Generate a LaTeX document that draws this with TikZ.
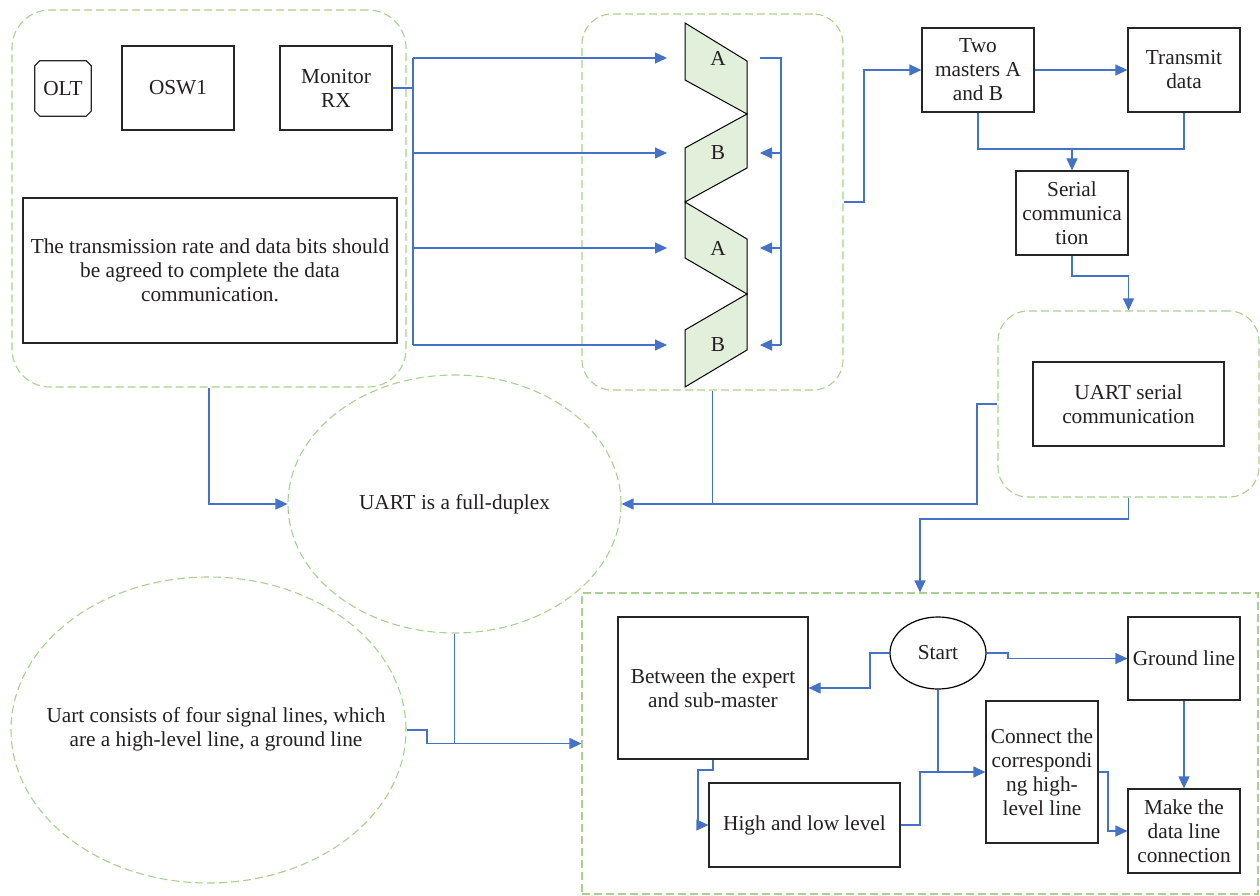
\documentclass[tikz,border=0pt]{standalone}
\usepackage{fontspec}
\setmainfont{Liberation Serif}
\usetikzlibrary{arrows.meta,shapes.geometric,shapes.misc}
\definecolor{bl}{HTML}{4472C4}
\definecolor{gr}{HTML}{A9D18E}
\definecolor{gf}{HTML}{E2EFDA}
\definecolor{tx}{HTML}{231F20}
\begin{document}
\begin{tikzpicture}[x=1pt,y=-1pt,
  every node/.style={font=\fontsize{21.3}{24}\selectfont, text=tx, align=center, inner sep=0pt},
  box/.style={draw=black!85, line width=1.2pt, rectangle},
  grp/.style={draw=gr, line width=1.1pt, dash pattern=on 8pt off 4pt},
  conn/.style={draw=bl, line width=1.2pt},
  arr/.style={conn, -{Triangle[length=12pt,width=11pt]}},
  trap/.style={draw=black, line width=1pt, fill=gf, line join=miter},
]
\useasboundingbox (0,0) rectangle (1260,896);

% groups
\node[grp, rounded corners=38pt, minimum width=394pt, minimum height=377pt] (g1) at (209,198.5) {};
\node[grp, rounded corners=30pt, minimum width=261pt, minimum height=376pt] (g2) at (712.5,202) {};
\node[grp, rounded corners=30pt, minimum width=261pt, minimum height=186pt] (g3) at (1128.5,404) {};
\node[grp, minimum width=676pt, minimum height=301pt] (g4) at (920,743.5) {};
\node[grp, ellipse, minimum width=333pt, minimum height=258pt] (e1) at (454.5,504) {UART is a full-duplex};
\node[grp, ellipse, minimum width=395pt, minimum height=306pt] (e2) at (208.5,730) {};
\node at (216,729) {Uart consists of four signal lines, which\\are a high-level line, a ground line};

% top-left boxes
\node[minimum width=56pt, minimum height=55pt] (olt) at (63,88.5) {OLT};
\draw[draw=black!85, line width=1.2pt]
  ([xshift=5pt]olt.north west) -- ([xshift=-5pt]olt.north east) -- ([yshift=-5pt]olt.north east)
  -- ([yshift=5pt]olt.south east) -- ([xshift=-5pt]olt.south east) -- ([xshift=5pt]olt.south west)
  -- ([yshift=5pt]olt.south west) -- ([yshift=-5pt]olt.north west) -- cycle;
\node[box, minimum width=112pt, minimum height=84pt] (osw) at (178,88) {OSW1};
\node[box, minimum width=112pt, minimum height=84pt] (mon) at (336,88) {Monitor\\RX};
\node[box, minimum width=374pt, minimum height=145pt] (rate) at (210,270.5) {The transmission rate and data bits should\\be agreed to complete the data\\communication.};

% trapezoids
\draw[trap] (685,23) -- (747,61) -- (747,114) -- (685,80) -- cycle;
\draw[trap] (685,148) -- (747,114) -- (747,168) -- (685,202) -- cycle;
\draw[trap] (685,202) -- (747,239) -- (747,294) -- (685,258) -- cycle;
\draw[trap] (685,330) -- (747,294) -- (747,350) -- (685,387) -- cycle;
\node (ta1) at (718,58) {A};
\node (tb1) at (718,153) {B};
\node (ta2) at (718,248) {A};
\node (tb2) at (718,345) {B};

% right-top boxes
\node[box, minimum width=112pt, minimum height=84pt] (two) at (978,70) {Two\\masters A\\and B};
\node[box, minimum width=112pt, minimum height=84pt] (txd) at (1184,70) {Transmit\\data};
\node[box, minimum width=112pt, minimum height=84pt] (ser) at (1072,213) {Serial\\communica\\tion};
\node[box, minimum width=191pt, minimum height=84pt] (uart) at (1128.5,404) {UART serial\\communication};

% bottom flow
\node[box, minimum width=190pt, minimum height=142pt] (betw) at (713,688) {Between the expert\\and sub-master};
\node[draw=black, line width=1.2pt, ellipse, minimum width=96pt, minimum height=72pt] (start) at (938,653) {Start};
\node[box, minimum width=112pt, minimum height=83pt] (ground) at (1184,658.5) {Ground line};
\node[box, minimum width=112pt, minimum height=142pt] (cnn) at (1042,772) {Connect the\\correspondi\\ng high-\\level line};
\node[box, minimum width=191pt, minimum height=84pt] (hl) at (804.5,825) {High and low level};
\node[box, minimum width=112pt, minimum height=84pt] (make) at (1184,831) {Make the\\data line\\connection};

% coordinates
\coordinate (vtop) at (413,58);
\coordinate (vbot) at (413,345);
\coordinate (la1) at (667,58);
\coordinate (lb1) at (667,153);
\coordinate (la2) at (667,248);
\coordinate (lb2) at (667,345);
\coordinate (ra1) at (760,58);
\coordinate (rb1) at (760,153);
\coordinate (ra2) at (760,248);
\coordinate (rb2) at (760,345);

% left bus
\draw[conn] (mon.east) -- (413,88);
\draw[conn] (vtop) -- (vbot);
\draw[arr] (vtop) -- (la1);
\draw[arr] (413,153) -- (lb1);
\draw[arr] (413,248) -- (la2);
\draw[arr] (vbot) -- (lb2);
% right bracket
\draw[conn] (ra1) -- (781,58) -- (781,345);
\draw[arr] (781,153) -- (rb1);
\draw[arr] (781,248) -- (ra2);
\draw[arr] (781,345) -- (rb2);

% to two masters
\draw[arr] (g2.east) -- (864,202) |- (two.west);
\draw[arr] (two.east) -- (txd.west);
\draw[conn] (two.south) -- (978,149) -- (1184,149) -- (txd.south);
\draw[arr] (1072,149) -- (ser.north);
\draw[arr] (ser.south) -- (1072,276) -| (g3.north);

% into e1
\draw[arr] (g1.south) |- (e1.west);
\draw[conn] (g2.south) -- (712.5,504);
\draw[arr] (g3.west) -- (977,404) |- (e1.east);
\draw[arr] (g3.south) -- (1128.5,519) -| (g4.north);

% into g4
\draw[arr] (e2.east) -- (427,730) |- (g4.west);
\draw[conn] (e1.south) -- (454.5,743.5);

% bottom flow connectors
\draw[arr] (start.west) -- (870,653) |- (betw.east);
\draw[arr] (start.east) -- (1008,653) |- (ground.west);
\draw[arr] (start.south) |- (cnn.west);
\draw[conn] (hl.east) -- (920,825) -- (920,772) -- (938,772);
\draw[arr] (betw.south) -- (713,770) -- (698,770) |- (hl.west);
\draw[arr] (ground.south) -- (make.north);
\draw[arr] (cnn.east) -- (1108,772) |- (make.west);
\end{tikzpicture}
\end{document}
